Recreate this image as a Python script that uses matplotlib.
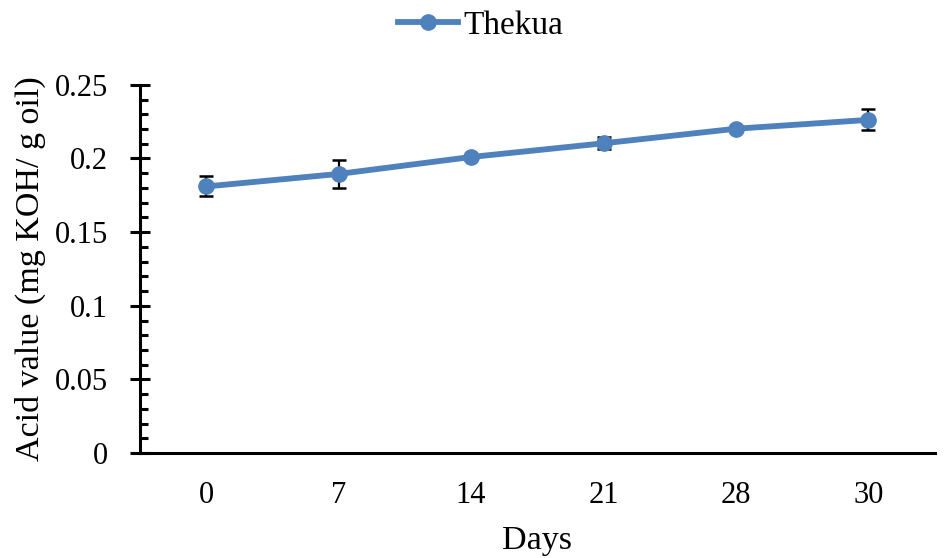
import numpy as np
import matplotlib
matplotlib.use("Agg")
import matplotlib.pyplot as plt
from matplotlib.lines import Line2D

# Data
days = ['0', '7', '14', '21', '28', '30']
acid_value = [0.181, 0.1895, 0.201, 0.2103, 0.2202, 0.2262]
acid_err = [0.0068, 0.0095, 0.0015, 0.004, 0.0012, 0.0072]
y_ticks = [0, 0.05, 0.1, 0.15, 0.2, 0.25]
y_labels = ['0', '0.05', '0.1', '0.15', '0.2', '0.25']

line_col = '#4f81bd'

plt.rcParams['font.family'] = ['Liberation Serif', 'DejaVu Serif']

fig = plt.figure(figsize=(9.46, 5.58), dpi=100)
ax = fig.add_axes([0.148, 0.188, 0.84, 0.66])

x = np.arange(len(days))
ax.errorbar(x, acid_value, yerr=acid_err, color=line_col, linewidth=4.2,
            marker='o', markersize=11, ecolor='black', elinewidth=1.6,
            capsize=5, capthick=1.8, zorder=3)

ax.set_xlim(-0.5, len(days) - 0.5)
ax.set_ylim(0, 0.25)
ax.set_xticks(x)
ax.set_xticklabels(days)
ax.set_yticks(y_ticks)
ax.set_yticklabels(y_labels)
ax.set_yticks(np.arange(0, 0.2501, 0.01), minor=True)

for s in ['top', 'right']:
    ax.spines[s].set_visible(False)
for s in ['left', 'bottom']:
    ax.spines[s].set_linewidth(2.2)
    ax.spines[s].set_color('black')

ax.tick_params(axis='y', which='major', direction='inout', length=14, width=2.2,
               labelsize=22, pad=16)
ax.tick_params(axis='y', which='minor', direction='in', length=6, width=2.2)
ax.tick_params(axis='x', which='major', length=0, labelsize=22, pad=20)

ax.set_xlabel('Days', fontsize=24.5, labelpad=11)
ax.set_ylabel('Acid value (mg KOH/ g oil)', fontsize=24.5, labelpad=6)

handle = Line2D([], [], color=line_col, linewidth=4.2, marker='o', markersize=11)
fig.legend([handle], ['Thekua'], loc='upper center', bbox_to_anchor=(0.508, 1.035),
           frameon=False, fontsize=24, handlelength=1.8, handletextpad=0.15)

fig.savefig('out.png', dpi=100)
